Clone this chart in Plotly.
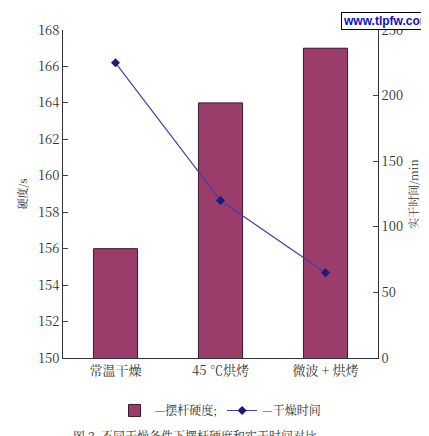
import plotly.graph_objects as go

categories = ["常温干燥", "45 ℃烘烤", "微波 + 烘烤"]
hardness = [156, 164, 167]
dry_time = [225, 120, 65]
left_ticks = [150, 152, 154, 156, 158, 160, 162, 164, 166, 168]
right_ticks = [0, 50, 100, 150, 200, 250]

font = dict(family="Noto Serif CJK SC, Noto Sans CJK SC, serif", size=13, color="#333")

fig = go.Figure()
fig.add_trace(go.Bar(
    x=categories, y=hardness, name="—摆杆硬度;",
    marker=dict(color="#9b3d6b", line=dict(color="#3a1a2a", width=1)),
    width=0.42,
))
fig.add_trace(go.Scatter(
    x=categories, y=dry_time, name="—干燥时间", yaxis="y2",
    mode="lines+markers",
    line=dict(color="#4a3ea0", width=1.2),
    marker=dict(color="#1a1a80", size=7, symbol="diamond"),
))

fig.update_layout(
    width=429, height=436,
    margin=dict(l=55, r=59, t=20, b=86),
    plot_bgcolor="white", paper_bgcolor="white",
    font=font,
    showlegend=True,
    legend=dict(orientation="h", x=0.5, xanchor="center", y=-0.16, yanchor="middle",
                font=dict(size=12)),
    xaxis=dict(showline=True, linecolor="#333", ticks="", tickfont=dict(size=13)),
    yaxis=dict(range=[150, 168], tickvals=left_ticks, showline=True, linecolor="#333",
               ticks="inside", ticklen=5, showgrid=False, zeroline=False,
               title=dict(text="硬度/s", standoff=8, font=dict(size=11))),
    yaxis2=dict(range=[0, 250], tickvals=right_ticks, overlaying="y", side="right",
                showline=True, linecolor="#333", ticks="inside", ticklen=5,
                showgrid=False, zeroline=False,
                title=dict(text="实干时间/min", standoff=8, font=dict(size=11))),
    annotations=[
        dict(text="图 2  不同干燥条件下摆杆硬度和实干时间对比", xref="paper", yref="paper",
             x=0.42, y=-0.235, xanchor="center", yanchor="middle", showarrow=False,
             font=dict(size=12)),
        dict(text="<b>www.tlpfw.com</b>", xref="paper", yref="paper", x=1.17, y=1.055,
             xanchor="right", yanchor="top", showarrow=False, bordercolor="black",
             borderwidth=1, bgcolor="white", font=dict(color="#1010c0", size=12,
                                                     family="Arial")),
    ],
)

fig.write_html("out.html")
